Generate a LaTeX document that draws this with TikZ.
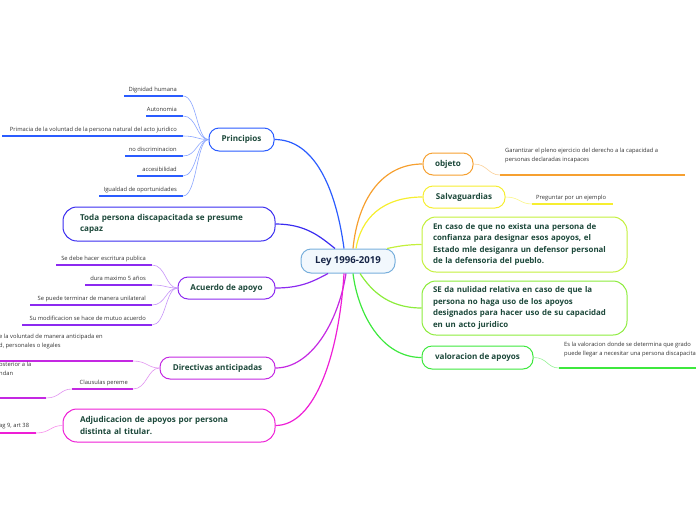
\documentclass[tikz,border=0pt]{standalone}
\usepackage{fontspec}
\setmainfont{Open Sans}
\usetikzlibrary{calc}
\definecolor{inkgreen}{RGB}{28,72,58}
\definecolor{inknavy}{RGB}{24,38,72}
\definecolor{leyline}{RGB}{120,175,220}
\definecolor{leyfill}{RGB}{242,248,253}
\definecolor{cprin}{RGB}{42,92,255}
\definecolor{ctoda}{RGB}{58,44,240}
\definecolor{cacue}{RGB}{140,42,240}
\definecolor{cdire}{RGB}{196,40,226}
\definecolor{cadju}{RGB}{238,30,214}
\definecolor{cobje}{RGB}{246,160,48}
\definecolor{csalv}{RGB}{246,238,48}
\definecolor{ccaso}{RGB}{196,240,60}
\definecolor{cnuli}{RGB}{140,236,60}
\definecolor{cvalo}{RGB}{62,232,62}

\tikzset{
  topic/.style={draw, line width=1pt, rounded corners=10pt, fill=white, text=inkgreen,
    font=\fontsize{8.1}{11.5}\selectfont\bfseries, inner sep=0pt, align=center},
  bigtopic/.style={topic, rounded corners=14pt, align=left, inner xsep=17pt},
  widetopic/.style={bigtopic, text width=183pt, inner xsep=11pt, minimum width=205pt,
    font=\fontsize{7.9}{11.5}\selectfont\bfseries},
  leaf/.style={font=\fontsize{5.8}{9}\selectfont, text=black!80, inner sep=0pt, align=left},
  main/.style={line width=1.2pt},
  twig/.style={line width=0.6pt},
  uline/.style={line width=1.6pt},
}

\begin{document}
\begin{tikzpicture}[x=1pt,y=-1pt]
  \useasboundingbox (0,0) rectangle (696,520);
  \clip (0,0) rectangle (696,520);

  %central topic
  \node[draw=leyline, fill=leyfill, line width=1pt, rounded corners=10pt, minimum width=94pt,
    minimum height=24pt, font=\fontsize{9.6}{11}\selectfont\bfseries, text=inknavy] (ley) at (348,261) {Ley 1996-2019};

  %left branches
  \node[topic, draw=cprin, minimum width=65pt, minimum height=23pt] (prin) at (241.5,139.5) {Principios};
  \node[bigtopic, draw=ctoda, text width=178pt, minimum height=34pt] (toda) at (169,224) {Toda persona discapacitada se presume\\capaz};
  \node[topic, draw=cacue, minimum width=97pt, minimum height=22pt] (acue) at (226.5,288) {Acuerdo de apoyo};
  \node[topic, draw=cdire, minimum width=115pt, minimum height=22pt] (dire) at (217.5,368) {Directivas anticipadas};
  \node[bigtopic, draw=cadju, text width=178pt, minimum height=33pt] (adju) at (169,425.5) {Adjudicacion de apoyos por persona\\distinta al titular.};

  %right branches
  \node[topic, draw=cobje, minimum width=50pt, minimum height=22pt] (obje) at (448,164) {objeto};
  \node[topic, draw=csalv, minimum width=82pt, minimum height=22pt] (salv) at (464,197) {Salvaguardias};
  \node[widetopic, draw=ccaso, minimum height=55pt] (caso) at (524.5,244.5)
    {En caso de que no exista una persona de\\confianza para designar esos apoyos, el\\Estado mle desiganra un defensor personal\\de la defensoria del pueblo.};
  \node[widetopic, draw=cnuli, minimum height=54pt] (nuli) at (524.5,308)
    {SE da nulidad relativa en caso de que la\\persona no haga uso de los apoyos\\designados para hacer uso de su capacidad\\en un acto juridico};
  \node[topic, draw=cvalo, minimum width=111pt, minimum height=23pt] (valo) at (477.5,357.5) {valoracion de apoyos};

  %ends on the central topic
  \coordinate (kprin) at ($(ley.north)+(-4,0)$);
  \coordinate (ktoda) at ($(ley.north)+(-13,0)$);
  \coordinate (kacue) at ($(ley.south)+(-20,0)$);
  \coordinate (kdire) at ($(ley.south)+(-2,0)$);
  \coordinate (kadju) at ($(ley.south)+(-4,0)$);
  \coordinate (kobje) at ($(ley.north)+(5,0)$);
  \coordinate (ksalv) at ($(ley.north)+(8,0)$);
  \coordinate (kcaso) at ($(ley.north)+(39,0)$);
  \coordinate (knuli) at ($(ley.south)+(12,0)$);
  \coordinate (kvalo) at ($(ley.south)+(5,0)$);

  \draw[main, cprin] (prin.east) .. controls +(40,0) and +(-8,-60) .. (kprin);
  \draw[main, ctoda] (toda.east) .. controls +(30,0) and +(-15,-12) .. (ktoda);
  \draw[main, cacue] (acue.east) .. controls +(25,0) and +(-15,8) .. (kacue);
  \draw[main, cdire] (dire.east) .. controls +(35,0) and +(-8,50) .. (kdire);
  \draw[main, cadju] (adju.east) .. controls +(40,0) and +(-5,80) .. (kadju);
  \draw[main, cobje] (obje.west) .. controls +(-40,0) and +(5,-50) .. (kobje);
  \draw[main, csalv] (salv.west) .. controls +(-40,0) and +(5,-30) .. (ksalv);
  \draw[main, ccaso] (caso.west) .. controls +(-15,0) and +(10,-2) .. (kcaso);
  \draw[main, cnuli] (nuli.west) .. controls +(-35,0) and +(10,15) .. (knuli);
  \draw[main, cvalo] (valo.west) .. controls +(-40,0) and +(5,40) .. (kvalo);

  %Principios leaves
  \foreach \y/\x/\t [count=\i] in {96/124/Dignidad humana, 116/146/Autonomia,
      136/2/Primacia de la voluntad de la persona natural del acto juridico,
      156/125/no discriminacion, 176/137/accesibilidad, 196/99/Igualdad de oportunidades}
  {
    \node[leaf, anchor=base east] (p\i) at (177,\y-5) {\t};
    \coordinate (pa\i) at (\x,\y);
    \coordinate (pb\i) at (183,\y);
    \draw[uline, cprin] (pa\i) -- (pb\i);
    \draw[twig, cprin!55] (pb\i) .. controls +(14,0) and +(-12,0) .. (prin.west);
  }

  %Acuerdo leaves
  \foreach \y/\x/\t [count=\i] in {265/56/Se debe hacer escritura publica, 285/85/dura maximo 5 años,
      305/30/Se puede terminar de manera unilateral, 325/22/Su modificacion se hace de mutuo acuerdo}
  {
    \node[leaf, anchor=base east] (a\i) at (146,\y-5) {\t};
    \coordinate (aa\i) at (\x,\y);
    \coordinate (ab\i) at (152,\y);
    \draw[uline, cacue] (aa\i) -- (ab\i);
    \draw[twig, cacue!50] (ab\i) .. controls +(14,0) and +(-12,0) .. (acue.west);
  }

  %Directivas leaves
  \node[leaf, anchor=base west] (d1) at (-1,347.5) {e la voluntad de manera anticipada en\\d, personales o legales};
  \coordinate (da1) at (0,361);
  \coordinate (db1) at (133,361);
  \draw[uline, cdire] (da1) -- (db1);
  \draw[twig, cdire!50] (db1) .. controls +(14,0) and +(-12,0) .. (dire.west);
  \node[leaf, anchor=base east] (d2) at (128,384.5) {Clausulas pereme};
  \coordinate (da2) at (72,389);
  \coordinate (db2) at (133,389);
  \draw[uline, cdire] (da2) -- (db2);
  \draw[twig, cdire!50] (db2) .. controls +(14,0) and +(-12,0) .. (dire.west);
  \node[leaf, anchor=base west] (d3) at (-1,375) {osterior a la\\ndan};
  \coordinate (da3) at (0,398);
  \coordinate (db3) at (46,398);
  \draw[uline, cdire] (da3) -- (db3);
  \draw[twig, cdire!50] (db3) .. controls +(14,0) and +(-12,0) .. (da2);

  %Adjudicacion leaf
  \node[leaf, anchor=base west] (j1) at (-1,427.5) {ag 9, art 38};
  \coordinate (ja1) at (0,433);
  \coordinate (jb1) at (36,433);
  \draw[uline, cadju] (ja1) -- (jb1);
  \draw[twig, cadju!50] (jb1) .. controls +(14,0) and +(-12,0) .. (adju.west);

  %right leaves
  \node[leaf, anchor=base west] (o1) at (505,161) {Garantizar el pleno ejercicio del derecho a la capacidad a\\personas declaradas incapaces};
  \coordinate (oa1) at (500,175);
  \coordinate (ob1) at (685,175);
  \draw[uline, cobje] (oa1) -- (ob1);
  \draw[twig, cobje!50] (obje.east) .. controls +(14,0) and +(-12,0) .. (oa1);

  \node[leaf, anchor=base west] (s1) at (536,199) {Preguntar por un ejemplo};
  \coordinate (sa1) at (532,204);
  \coordinate (sb1) at (613,204);
  \draw[uline, csalv] (sa1) -- (sb1);
  \draw[twig, csalv!60] (salv.east) .. controls +(14,0) and +(-12,0) .. (sa1);

  \node[leaf, anchor=base west] (v1) at (564,355) {Es la valoracion donde se determina que grado\\puede llegar a necesitar una persona discapacitada};
  \coordinate (va1) at (559,368);
  \coordinate (vb1) at (700,368);
  \draw[uline, cvalo] (va1) -- (vb1);
  \draw[twig, cvalo!55] (valo.east) .. controls +(14,0) and +(-12,0) .. (va1);
\end{tikzpicture}
\end{document}
